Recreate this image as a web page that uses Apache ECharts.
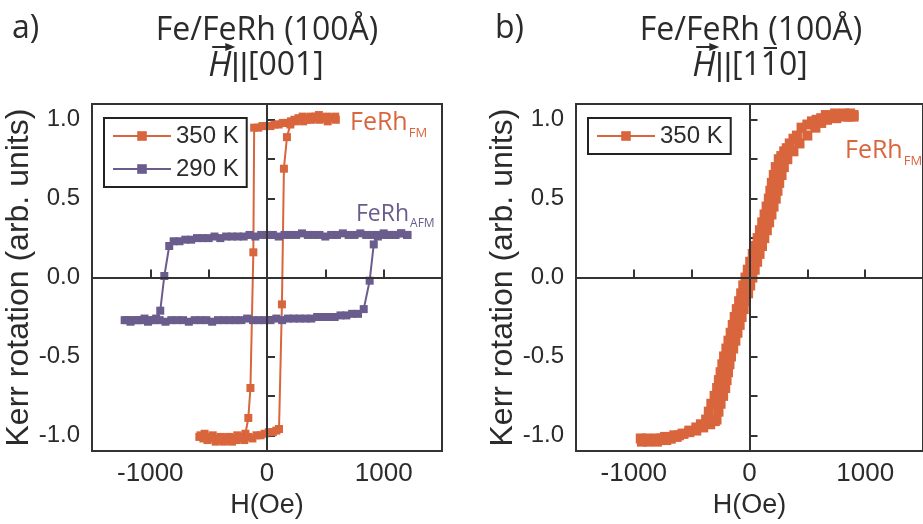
<!DOCTYPE html>
<html>
<head>
<meta charset="utf-8">
<script src="https://cdn.jsdelivr.net/npm/echarts@6/dist/echarts.min.js"></script>
<style>
html, body { margin: 0; padding: 0; background: #fff; }
#chart { width: 923px; height: 524px; }
</style>
</head>
<body>
<div id="chart"></div>
<script>
// panel a) H || [001], 350 K : sweep down then up, [H (Oe), Kerr]
var loop350a = [
  [590, 1.00], [555, 1.01], [520, 0.99], [485, 1.01], [450, 1.00], [415, 1.02], [380, 1.00], [345, 1.01],
  [310, 0.99], [275, 1.00], [240, 0.99], [205, 0.99], [170, 0.98], [135, 0.98], [100, 0.97], [65, 0.97],
  [30, 0.96], [-5, 0.96], [-40, 0.96], [-75, 0.95], [-110, 0.95], [-117, 0.16], [-142, -0.70], [-160, -0.89],
  [-185, -0.99], [-220, -1.01], [-255, -1.00], [-290, -1.02], [-325, -1.01], [-360, -1.03], [-395, -1.01],
  [-430, -1.02], [-465, -1.00], [-500, -1.01], [-535, -0.99], [-570, -1.00],
  [-580, -1.01], [-545, -1.02], [-510, -1.03], [-475, -1.02], [-440, -1.04], [-405, -1.03], [-370, -1.04],
  [-335, -1.02], [-300, -1.04], [-265, -1.03], [-230, -1.02], [-195, -1.03], [-160, -1.01], [-125, -1.02],
  [-90, -1.00], [-55, -1.00], [-20, -0.99], [15, -0.98], [50, -0.98], [80, -0.97], [103, -0.96], [128, -0.17],
  [145, 0.69], [171, 0.89], [200, 0.97], [235, 1.00], [270, 1.01], [305, 1.02], [340, 1.00], [375, 1.02],
  [410, 1.01], [445, 1.03], [480, 1.01], [515, 1.02], [550, 1.01], [585, 1.02]
];

// panel a) 290 K (AFM state)
var loop290a = [
  [1200, 0.27], [1150, 0.28], [1100, 0.27], [1050, 0.27], [1000, 0.28], [950, 0.27], [900, 0.27], [850, 0.27],
  [800, 0.28], [750, 0.27], [700, 0.27], [650, 0.28], [600, 0.27], [550, 0.27], [500, 0.26], [450, 0.27],
  [400, 0.27], [350, 0.27], [300, 0.28], [250, 0.27], [200, 0.27], [150, 0.27], [100, 0.26], [50, 0.27],
  [0, 0.27], [-50, 0.27], [-100, 0.26], [-150, 0.27], [-200, 0.26], [-250, 0.26], [-300, 0.26], [-350, 0.26],
  [-400, 0.25], [-450, 0.26], [-500, 0.25], [-550, 0.25], [-600, 0.25], [-650, 0.24], [-700, 0.24], [-750, 0.23],
  [-800, 0.23], [-838, 0.20], [-880, 0.01], [-915, -0.21], [-950, -0.26], [-1000, -0.27], [-1050, -0.26],
  [-1100, -0.27], [-1150, -0.27], [-1200, -0.27],
  [-1220, -0.27], [-1170, -0.28], [-1120, -0.27], [-1070, -0.27], [-1020, -0.28], [-970, -0.27], [-920, -0.27],
  [-870, -0.28], [-820, -0.27], [-770, -0.27], [-720, -0.27], [-670, -0.28], [-620, -0.27], [-570, -0.27],
  [-520, -0.27], [-470, -0.28], [-420, -0.27], [-370, -0.27], [-320, -0.27], [-270, -0.27], [-220, -0.27],
  [-170, -0.26], [-120, -0.27], [-70, -0.27], [-20, -0.27], [30, -0.27], [80, -0.26], [130, -0.27], [180, -0.26],
  [230, -0.26], [280, -0.26], [330, -0.26], [380, -0.26], [430, -0.25], [480, -0.25], [530, -0.25], [580, -0.25],
  [630, -0.24], [680, -0.24], [730, -0.23], [780, -0.23], [829, -0.20], [880, -0.02], [915, 0.21], [950, 0.26],
  [1000, 0.27], [1050, 0.27], [1100, 0.27], [1150, 0.28], [1205, 0.27]
];

// panel b) H || [1-10], 350 K
var loop350b = [
  [900, 1.03], [860, 1.02], [820, 1.04], [780, 1.03], [740, 1.04], [700, 1.02], [660, 1.03], [620, 1.01],
  [580, 1.00], [540, 0.99], [500, 0.97], [450, 0.95], [410, 0.90], [380, 0.88], [348, 0.85], [322, 0.82],
  [300, 0.80], [275, 0.77], [253, 0.75], [227, 0.70], [210, 0.65], [193, 0.60], [180, 0.55], [167, 0.50],
  [148, 0.45], [130, 0.40], [110, 0.35], [90, 0.30], [70, 0.25], [48, 0.20], [28, 0.15], [6, 0.10],
  [-15, 0.05], [-35, 0.00], [-54, -0.05], [-72, -0.10], [-90, -0.15], [-110, -0.20], [-128, -0.25],
  [-145, -0.30], [-163, -0.35], [-182, -0.40], [-200, -0.45], [-220, -0.50], [-235, -0.55], [-250, -0.60],
  [-265, -0.65], [-280, -0.70], [-302, -0.75], [-330, -0.80], [-352, -0.85], [-375, -0.90], [-420, -0.93],
  [-460, -0.95], [-520, -0.97], [-580, -0.99], [-630, -1.01], [-680, -1.02], [-720, -1.03], [-760, -1.02],
  [-800, -1.04], [-840, -1.03], [-880, -1.04], [-920, -1.03], [-940, -1.02],
  [-930, -1.04], [-890, -1.02], [-850, -1.03], [-810, -1.02], [-770, -1.03], [-730, -1.01], [-690, -1.02],
  [-650, -1.00], [-610, -1.00], [-570, -0.99], [-520, -0.98], [-460, -0.97], [-400, -0.95], [-340, -0.93],
  [-300, -0.91], [-285, -0.90], [-268, -0.85], [-250, -0.80], [-228, -0.75], [-210, -0.70], [-198, -0.65],
  [-186, -0.60], [-173, -0.55], [-160, -0.50], [-141, -0.45], [-122, -0.40], [-104, -0.35], [-85, -0.30],
  [-68, -0.25], [-50, -0.20], [-30, -0.15], [-12, -0.10], [6, -0.05], [25, 0.00], [45, 0.05], [66, 0.10],
  [87, 0.15], [108, 0.20], [128, 0.25], [150, 0.30], [170, 0.35], [190, 0.40], [208, 0.45], [227, 0.50],
  [242, 0.55], [257, 0.60], [277, 0.65], [297, 0.70], [327, 0.75], [380, 0.80], [432, 0.85], [500, 0.90],
  [570, 0.95], [620, 0.98], [670, 1.00], [710, 1.02], [750, 1.01], [790, 1.03], [830, 1.02], [870, 1.04],
  [900, 1.02]
];

var xTicks = [-1500, -1000, -500, 0, 500, 1000, 1500];
var xLabels = [-1000, 0, 1000];
var yTicks = [-1, -0.75, -0.5, -0.25, 0, 0.25, 0.5, 0.75, 1];
var yLabels = [-1, -0.5, 0, 0.5, 1];

var ORANGE = '#d9653d';
var PURPLE = '#6a5c8c';
var TXT = '#2b2b2b';
var SANS = '"Liberation Sans", Arial, sans-serif';
var NARROW = '"Liberation Sans Narrow", "Liberation Sans", sans-serif';
var TFONT = '"Open Sans", sans-serif';

var mctx = document.createElement('canvas').getContext('2d');
function tw(s, size, fam, style) {
  mctx.font = (style || 'normal') + ' ' + size + 'px ' + fam;
  return mctx.measureText(s).width;
}

function txt(x, y, s, size, color, align, style, fam) {
  return {
    type: 'text', x: x, y: y, silent: true,
    style: { text: s, fontSize: size, fontFamily: fam || TFONT, fontStyle: style || 'normal',
      fill: color, align: align || 'left', verticalAlign: 'middle' }
  };
}

// second title line: italic H with arrow, optional overbar on one piece
function line2(cx, cy, parts) {
  var size = 32, els = [];
  var ws = parts.map(function (p) { return tw(p.t, p.size || size, p.fam || TFONT, p.italic ? 'italic' : 'normal'); });
  var x = cx - ws.reduce(function (a, b) { return a + b; }, 0) / 2;
  parts.forEach(function (p, i) {
    els.push(txt(x, cy, p.t, p.size || size, TXT, 'left', p.italic ? 'italic' : 'normal', p.fam));
    if (p.arrow) {
      var ay = cy - 19, x0 = x + 4, x1 = x + ws[i] + 3;
      els.push({ type: 'line', silent: true, shape: { x1: x0, y1: ay, x2: x1 - 3, y2: ay }, style: { stroke: TXT, lineWidth: 2 } });
      els.push({ type: 'polygon', silent: true, shape: { points: [[x1 - 9, ay - 4], [x1 + 1, ay], [x1 - 9, ay + 4]] }, style: { fill: TXT } });
    }
    if (p.bar) {
      els.push({ type: 'line', silent: true, shape: { x1: x + 3, y1: cy - 18, x2: x + ws[i] - 2, y2: cy - 18 }, style: { stroke: TXT, lineWidth: 2 } });
    }
    x += ws[i];
  });
  return els;
}

// FeRh label with subscript
function ferh(x, cy, sub, size, subSize, color) {
  var w = tw('FeRh', size, TFONT);
  return [txt(x, cy, 'FeRh', size, color), txt(x + w + 1, cy + size * 0.42, sub, subSize, color)];
}

function xAxis(g) {
  return {
    type: 'value', gridIndex: g, min: -1500, max: 1500, interval: 500,
    axisLine: { show: false },
    axisTick: { inside: true, length: 8, customValues: xTicks, lineStyle: { color: '#333', width: 2 } },
    axisLabel: { customValues: xLabels, margin: 10, fontSize: 26, fontFamily: NARROW, color: TXT,
      formatter: function (v) { return String(v); } },
    splitLine: { show: false },
    name: 'H(Oe)', nameLocation: 'middle', nameGap: 37,
    nameTextStyle: { fontSize: 27, fontFamily: NARROW, color: TXT }
  };
}
function yAxis(g, gap) {
  return {
    type: 'value', gridIndex: g, min: -1.1, max: 1.1,
    axisLine: { show: false },
    axisTick: { inside: true, length: 8, customValues: yTicks, lineStyle: { color: '#333', width: 2 } },
    axisLabel: { customValues: yLabels, margin: 12, fontSize: 24, fontFamily: SANS, color: TXT,
      formatter: function (v) { return v.toFixed(1); } },
    splitLine: { show: false },
    name: 'Kerr rotation (arb. units)', nameLocation: 'middle', nameGap: gap, nameRotate: 90,
    nameTextStyle: { fontSize: 32, fontFamily: SANS, color: TXT }
  };
}
function zeroLines(g) {
  return {
    type: 'line', xAxisIndex: g, yAxisIndex: g, data: [], z: 1, silent: true,
    markLine: {
      silent: true, symbol: ['none', 'none'], label: { show: false }, animation: false,
      lineStyle: { color: '#333', width: 2, type: 'solid' },
      data: [{ xAxis: 0 }, { yAxis: 0 }]
    }
  };
}
function loop(g, name, data, color, size) {
  return {
    type: 'line', name: name, xAxisIndex: g, yAxisIndex: g, data: data, z: 3,
    symbol: 'rect', symbolSize: size, showSymbol: true, showAllSymbol: true,
    lineStyle: { color: color, width: 2 }, itemStyle: { color: color }, animation: false
  };
}

var legendBase = {
  orient: 'vertical', top: 118, padding: [6, 8, 6, 8], itemGap: 9,
  itemWidth: 58, itemHeight: 12, borderColor: '#222', borderWidth: 2, borderRadius: 0,
  textStyle: { fontSize: 24, fontFamily: SANS, color: TXT }, selectedMode: false
};

var graphics = [].concat(
  [txt(12, 29, 'a)', 32, TXT), txt(495, 29, 'b)', 32, TXT)],
  [txt(267, 31, 'Fe/FeRh (100Å)', 32, TXT, 'center'), txt(751, 31, 'Fe/FeRh (100Å)', 32, TXT, 'center')],
  line2(266, 66, [{ t: 'H', italic: true, arrow: true, size: 34 }, { t: '||', fam: SANS }, { t: '[001]' }]),
  line2(750, 66, [{ t: 'H', italic: true, arrow: true, size: 34 }, { t: '||', fam: SANS }, { t: '[1' }, { t: '1', bar: true }, { t: '0]' }]),
  ferh(350, 123, 'FM', 25, 13, ORANGE),
  ferh(356, 214, 'AFM', 23, 12, PURPLE),
  ferh(845, 151, 'FM', 25, 13, ORANGE)
);

var chart = echarts.init(document.getElementById('chart'));
chart.setOption({
  backgroundColor: '#fff',
  animation: false,
  grid: [
    { left: 92, top: 104, width: 350, height: 351, show: true, borderColor: '#333', borderWidth: 2, backgroundColor: 'transparent' },
    { left: 576, top: 104, width: 350, height: 351, show: true, borderColor: '#333', borderWidth: 2, backgroundColor: 'transparent' }
  ],
  xAxis: [xAxis(0), xAxis(1)],
  yAxis: [yAxis(0, 48), yAxis(1, 52)],
  legend: [
    Object.assign({}, legendBase, { left: 104, data: ['350 K', '290 K'] }),
    Object.assign({}, legendBase, { left: 588, data: ['350 K'] })
  ],
  series: [
    zeroLines(0),
    zeroLines(1),
    loop(0, '290 K', loop290a, PURPLE, 8),
    loop(0, '350 K', loop350a, ORANGE, 8),
    loop(1, '350 K', loop350b, ORANGE, 10)
  ],
  graphic: graphics
});
</script>
</body>
</html>
